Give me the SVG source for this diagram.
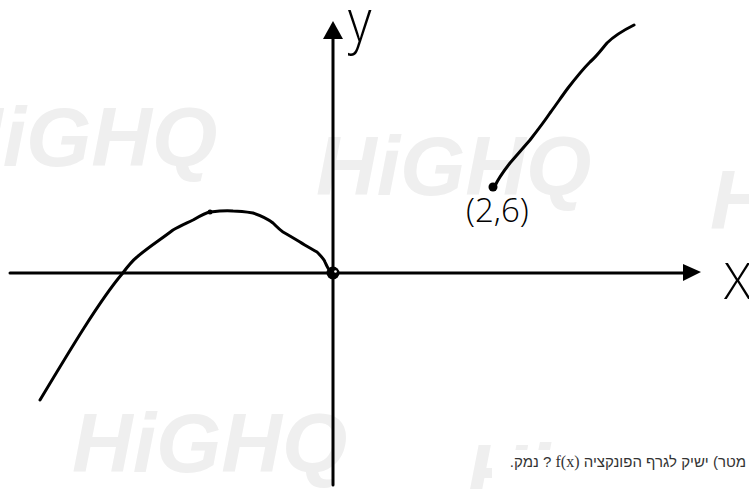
<svg xmlns="http://www.w3.org/2000/svg" width="749" height="489" viewBox="0 0 749 489">
  <style>
    .wm { font-family: "Liberation Sans", Arial, sans-serif; font-weight: bold; font-style: italic; font-size: 84px; fill: #efefef; }
    .ink { fill: none; stroke: #000; stroke-width: 3; stroke-linecap: round; stroke-linejoin: round; }
    .hand { font-family: "Open Sans", "DejaVu Sans", sans-serif; font-weight: 300; fill: #000; }
    .q { font-family: "Liberation Sans", Arial, sans-serif; font-size: 15px; fill: #333; }
  </style>
  <rect width="749" height="489" fill="#fff"/>
  <g id="watermarks">
    <text class="wm" x="-58" y="166">HiGHQ</text>
    <text class="wm" x="316" y="195">HiGHQ</text>
    <text class="wm" x="72" y="472">HiGHQ</text>
    <text class="wm" x="710" y="229">H</text>
    <text class="wm" x="466" y="503">Hi</text>
  </g>
  <rect x="492" y="450" width="257" height="39" fill="#fff"/>
  <g id="axes">
    <line class="ink" x1="10" y1="273" x2="686" y2="273"/>
    <polygon points="683,264 701,272 683,281" fill="#000"/>
    <line class="ink" x1="333" y1="485" x2="333" y2="36"/>
    <polygon points="333,21 323,39 343,39" fill="#000"/>
    <text class="hand" x="348" y="42" font-size="60" transform="translate(348 0) scale(0.85 1) translate(-348 0)">y</text>
    <text class="hand" x="724" y="299" font-size="50">X</text>
  </g>
  <g id="curves">
    <path class="ink" d="M40,400 C70,350 100,300 122,274 C128,266 132,261 137,257 C150,246 160,240 173,230 C180,226 187,223 193,220 C200,216 205,213 210,212 C218,211 226,210 233,211 C240,211 247,212 253,213 C262,216 268,219 273,223 C277,227 280,230 283,232 C290,236 295,239 300,242 C306,246 312,249 317,252 C321,256 324,259 325,262 C327,267 329,270 331,272"/>
    <circle cx="210" cy="212" r="2.5" fill="#000"/>
    <circle cx="333" cy="273" r="6.5" fill="#000"/>
    <circle cx="335.5" cy="271.5" r="1.3" fill="#fff"/>
    <path class="ink" d="M495,186 C498,179 503,172 510,163 C517,155 523,148 530,140 C537,131 544,122 550,113 C556,105 562,96 568,88 C575,79 582,70 590,62 C597,56 601,50 607,43 C614,36 624,30 634,25"/>
    <circle cx="493" cy="187" r="4.5" fill="#000"/>
    <text class="hand" x="466" y="222" font-size="33">(2,6)</text>
  </g>
  <g id="question">
    <text class="q" x="746" y="467" direction="rtl" unicode-bidi="embed" text-anchor="start">מטר) ישיק לגרף הפונקציה  <tspan font-family="Liberation Serif, serif" font-size="16">f(x)</tspan> ? נמק.</text>
  </g>
</svg>
